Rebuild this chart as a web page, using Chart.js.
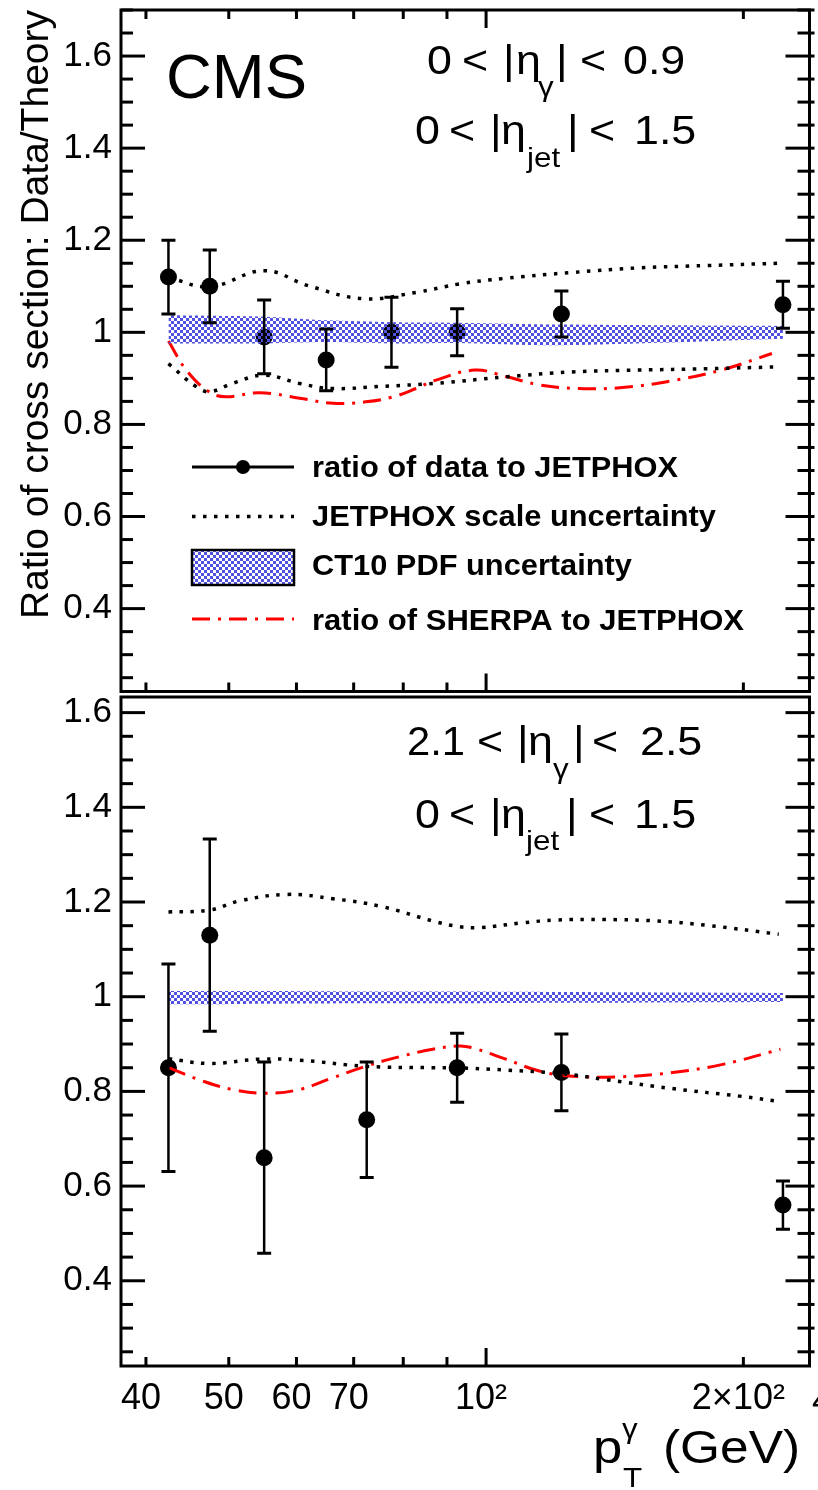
<!DOCTYPE html>
<html>
<head>
<meta charset="utf-8">
<script src="https://cdn.jsdelivr.net/npm/chart.js@4.4.0/dist/chart.umd.min.js"></script>
<style>
    html, body { margin: 0; padding: 0; background: #fff; }
    #wrap { position: relative; width: 818px; height: 1490px; overflow: hidden; background: #fff; }
    canvas { position: absolute; left: 0; }
    #topChart { top: 0; }
    #bottomChart { top: 680px; }
</style>
</head>
<body>
<div id="wrap">
    <canvas id="topChart" width="818" height="700"></canvas>
    <canvas id="bottomChart" width="818" height="810"></canvas>
</div>
<script>
const FONT = '"Liberation Sans", Arial, Helvetica, sans-serif';
const RED = '#ff0000';
const STRETCH = 1.12; // ROOT's Helvetica renders a bit wider than Liberation Sans

// x axis (photon pT, GeV)
const xMin = 37.4;
const xMax = 239;
const xTickValues = [40, 50, 60, 70, 100, 200];
const xTickLabels = ['40', '50', '60', '70', '10²', '2×10²'];
const xMinorTicks = [40, 50, 60, 70, 80, 90, 200];
const xMajorTicks = [100];
const yTickValues = [0.4, 0.6, 0.8, 1.0, 1.2, 1.4, 1.6];

// top panel: 0 < |eta_gamma| < 0.9
const ptTop = [42.5, 47.5, 55, 65, 77.5, 92.5, 122.5, 222.5];
const ratioTop = [1.12, 1.10, 0.99, 0.94, 1.00, 1.00, 1.04, 1.06];
const errTop = [0.08, 0.079, 0.08, 0.067, 0.076, 0.051, 0.05, 0.051];
const pdfHiTop = [1.037, 1.036, 1.034, 1.026, 1.022, 1.021, 1.017, 1.014];
const pdfLoTop = [0.976, 0.976, 0.976, 0.979, 0.976, 0.977, 0.972, 0.986];
const scaleUpPtTop = [42.5, 47.5, 55, 62, 72, 83, 93, 105, 126, 151, 181, 220];
const scaleUpTop = [1.119, 1.099, 1.134, 1.101, 1.073, 1.087, 1.105, 1.117, 1.130, 1.140, 1.145, 1.150];
const scaleDnPtTop = [42.5, 45.8, 47.5, 50.5, 55, 60.5, 66, 76, 87, 105, 126, 151, 181, 220];
const scaleDnTop = [0.932, 0.882, 0.871, 0.889, 0.907, 0.889, 0.878, 0.883, 0.889, 0.903, 0.914, 0.918, 0.921, 0.925];
const sherpaPtTop = [42.5, 44.6, 47.4, 49.6, 54.3, 60.5, 66.2, 72.3, 77.9, 82.8, 87, 97, 105.5, 115.4, 128.5, 144.3, 165.3, 189.2, 216];
const sherpaTop = [0.981, 0.918, 0.871, 0.860, 0.869, 0.857, 0.846, 0.849, 0.860, 0.878, 0.895, 0.918, 0.904, 0.886, 0.878, 0.880, 0.895, 0.919, 0.954];

// bottom panel: 2.1 < |eta_gamma| < 2.5
const ptBot = [42.5, 47.5, 55, 72.5, 92.5, 122.5, 222.5];
const ratioBot = [0.85, 1.13, 0.66, 0.74, 0.85, 0.84, 0.56];
const errBot = [0.219, 0.203, 0.202, 0.122, 0.073, 0.081, 0.051];
const pdfHiBot = [1.012, 1.012, 1.012, 1.011, 1.011, 1.010, 1.008];
const pdfLoBot = [0.984, 0.984, 0.985, 0.986, 0.986, 0.987, 0.989];
const scaleUpPtBot = [42.5, 47.5, 51.4, 58.4, 66.2, 75.7, 86.6, 93, 98.2, 110.3, 120.7, 138.1, 158, 180.9, 220];
const scaleUpBot = [1.179, 1.183, 1.202, 1.216, 1.207, 1.19, 1.16, 1.148, 1.146, 1.156, 1.162, 1.163, 1.16, 1.151, 1.132];
const scaleDnPtBot = [42.5, 47.5, 54.3, 60.5, 72.3, 86.6, 92.3, 105.5, 122, 138, 165, 198, 220];
const scaleDnBot = [0.869, 0.859, 0.868, 0.866, 0.853, 0.85, 0.85, 0.845, 0.838, 0.825, 0.806, 0.79, 0.779];
const sherpaPtBot = [42.5, 46.6, 50.5, 55.2, 60.5, 66.2, 72.3, 79.1, 86.6, 93, 96.4, 105.5, 115.4, 126.2, 144.3, 165.3, 189.2, 221];
const sherpaBot = [0.85, 0.822, 0.804, 0.796, 0.804, 0.829, 0.853, 0.873, 0.889, 0.896, 0.892, 0.868, 0.843, 0.832, 0.831, 0.84, 0.857, 0.889];

Chart.defaults.font.family = FONT;
Chart.defaults.color = '#000';

function xy(xs, ys) {
    return xs.map((x, i) => ({ x: x, y: ys[i] }));
}

function makeChecker() {
    const c = document.createElement('canvas');
    c.width = 6;
    c.height = 6;
    const g = c.getContext('2d');
    g.fillStyle = 'rgb(80, 80, 226)';
    g.fillRect(0, 0, 3, 3);
    g.fillRect(3, 3, 3, 3);
    return g.createPattern(c, 'repeat');
}
const checker = makeChecker();

// draw a list of [text, x, y, size, width?, bold?] in page coordinates
function drawTokens(ctx, tokens, dy) {
    ctx.save();
    ctx.fillStyle = '#000';
    ctx.textAlign = 'left';
    ctx.textBaseline = 'alphabetic';
    tokens.forEach(([s, x, y, size, w, bold]) => {
        ctx.font = (bold ? 'bold ' : '') + size + 'px ' + FONT;
        const sx = w ? w / ctx.measureText(s).width : STRETCH;
        ctx.save();
        ctx.translate(x, y - dy);
        ctx.scale(sx, 1);
        ctx.fillText(s, 0, 0);
        ctx.restore();
    });
    ctx.restore();
}

function hLine(ctx, x0, x1, y) {
    ctx.beginPath();
    ctx.moveTo(x0, y);
    ctx.lineTo(x1, y);
    ctx.stroke();
}

// frame with inward ROOT-style ticks
const framePlugin = {
    id: 'frame',
    afterDraw(chart, args, opts) {
        const { ctx, chartArea: a, scales: { x, y } } = chart;
        ctx.save();
        ctx.strokeStyle = '#000';
        ctx.lineWidth = 3;
        ctx.setLineDash([]);
        ctx.strokeRect(a.left, a.top, a.right - a.left, a.bottom - a.top);

        const k0 = Math.ceil(y.min * 20 - 1e-6);
        const k1 = Math.floor(y.max * 20 + 1e-6);
        for (let k = k0; k <= k1; k++) {
            const py = y.getPixelForValue(k / 20);
            const len = k % 4 === 0 ? 24 : 12;
            hLine(ctx, a.left, a.left + len, py);
            hLine(ctx, a.right - len, a.right + 5, py);
        }

        const xt = xMinorTicks.map(v => [v, 9]).concat(xMajorTicks.map(v => [v, 18]));
        xt.forEach(([v, len]) => {
            const px = x.getPixelForValue(v);
            ctx.beginPath();
            if (opts.top) {
                ctx.moveTo(px, a.top);
                ctx.lineTo(px, a.top + len);
            }
            if (opts.bottom) {
                ctx.moveTo(px, a.bottom);
                ctx.lineTo(px, a.bottom - len);
            }
            ctx.stroke();
        });
        ctx.restore();
    }
};

const errorBars = {
    id: 'errorBars',
    afterDatasetsDraw(chart) {
        const { ctx, scales: { x, y } } = chart;
        chart.data.datasets.forEach(ds => {
            if (!ds.errors) return;
            ctx.save();
            ctx.strokeStyle = '#000';
            ds.data.forEach((p, i) => {
                const px = x.getPixelForValue(p.x);
                const y1 = y.getPixelForValue(p.y + ds.errors[i]);
                const y2 = y.getPixelForValue(p.y - ds.errors[i]);
                ctx.lineWidth = 2.5;
                ctx.beginPath();
                ctx.moveTo(px, y1);
                ctx.lineTo(px, y2);
                ctx.stroke();
                ctx.lineWidth = 3;
                ctx.beginPath();
                ctx.moveTo(px - 7, y1);
                ctx.lineTo(px + 7, y1);
                ctx.moveTo(px - 7, y2);
                ctx.lineTo(px + 7, y2);
                ctx.stroke();
            });
            ctx.restore();
        });
    }
};

function panelDatasets(p) {
    const clear = 'rgba(0,0,0,0)';
    return [
        { data: xy(p.pt, p.pdfHi), fill: '+1', backgroundColor: checker, borderColor: clear, borderWidth: 1, pointRadius: 0, tension: 0.3 },
        { data: xy(p.pt, p.pdfLo), fill: false, borderColor: clear, borderWidth: 1, pointRadius: 0, tension: 0.3 },
        { data: xy(p.upPt, p.up), fill: false, borderColor: '#000', borderWidth: 3.5, borderDash: [3.5, 7.5], pointRadius: 0, tension: 0.4 },
        { data: xy(p.dnPt, p.dn), fill: false, borderColor: '#000', borderWidth: 3.5, borderDash: [3.5, 7.5], pointRadius: 0, tension: 0.4 },
        { data: xy(p.shPt, p.sh), fill: false, borderColor: RED, borderWidth: 3, borderDash: [18, 8, 3, 8], pointRadius: 0, tension: 0.4 },
        { data: xy(p.pt, p.ratio), showLine: false, pointRadius: 8.5, pointBackgroundColor: '#000', pointBorderWidth: 0, errors: p.err }
    ];
}

function yAxis(max, title) {
    return {
        min: 0.22,
        max: max,
        afterBuildTicks: s => { s.ticks = yTickValues.map(v => ({ value: v })); },
        afterFit: s => { s.width = 121; s.paddingTop = 0; s.paddingBottom = 0; },
        grid: { display: false, drawTicks: false },
        border: { display: false },
        ticks: { font: { size: 35 }, color: '#000', padding: 9, callback: v => String(Math.round(v * 10) / 10) },
        title: title ? { display: true, text: title, align: 'end', color: '#000', font: { size: 39 }, padding: { top: 14, bottom: 0 } } : { display: false }
    };
}

function drawTopText(chart) {
    const ctx = chart.ctx;
    drawTokens(ctx, [
        ['CMS', 166, 98, 63, 141],
        ['0', 427, 74, 40], ['<', 462, 74, 40], ['|', 503, 74, 40], ['η', 516, 74, 40],
        ['γ', 538, 96, 28], ['|', 556, 74, 40], ['<', 580, 74, 40], ['0.9', 623, 74, 40],
        ['0', 415, 144, 40], ['<', 449, 144, 40], ['|', 490, 144, 40], ['η', 501, 144, 40],
        ['jet', 527, 167, 28], ['|', 567, 144, 40], ['<', 589, 144, 40], ['1.5', 634, 144, 40]
    ], 0);

    // legend
    const x0 = 192, x1 = 294;
    ctx.save();
    ctx.strokeStyle = '#000';
    ctx.lineWidth = 3;
    hLine(ctx, x0, x1, 467);
    ctx.fillStyle = '#000';
    ctx.beginPath();
    ctx.arc(243, 467, 7, 0, Math.PI * 2);
    ctx.fill();
    ctx.lineWidth = 3.5;
    ctx.setLineDash([3.5, 7.5]);
    hLine(ctx, x0, x1, 516.5);
    ctx.setLineDash([]);
    ctx.fillStyle = checker;
    ctx.fillRect(x0, 550, x1 - x0, 35);
    ctx.lineWidth = 2.5;
    ctx.strokeRect(x0, 550, x1 - x0, 35);
    ctx.lineWidth = 3;
    ctx.strokeStyle = RED;
    ctx.setLineDash([18, 8, 3, 8]);
    hLine(ctx, x0, x1, 619);
    ctx.restore();

    drawTokens(ctx, [
        ['ratio of data to JETPHOX', 312, 477, 29, 366, true],
        ['JETPHOX scale uncertainty', 312, 526, 29, 404, true],
        ['CT10 PDF uncertainty', 312, 575, 29, 320, true],
        ['ratio of SHERPA to JETPHOX', 312, 630, 29, 432, true]
    ], 0);
}

function drawBottomText(chart) {
    drawTokens(chart.ctx, [
        ['2.1', 407, 755, 40, 58], ['<', 477, 755, 40], ['|', 517, 755, 40], ['η', 528, 755, 40],
        ['γ', 553, 778, 28], ['|', 573, 755, 40], ['<', 592, 755, 40], ['2.5', 640, 755, 40],
        ['0', 415, 828, 40], ['<', 449, 828, 40], ['|', 490, 828, 40], ['η', 501, 828, 40],
        ['jet', 526, 850, 28], ['|', 566, 828, 40], ['<', 589, 828, 40], ['1.5', 634, 828, 40],
        ['4', 812, 1412, 35, 20],
        ['p', 593, 1463, 47], ['γ', 622, 1438, 28], ['T', 623, 1487, 28],
        ['(GeV)', 663, 1463, 47, 137]
    ], 680);
}

new Chart(document.getElementById('topChart'), {
    type: 'line',
    data: {
        datasets: panelDatasets({
            pt: ptTop, ratio: ratioTop, err: errTop, pdfHi: pdfHiTop, pdfLo: pdfLoTop,
            upPt: scaleUpPtTop, up: scaleUpTop, dnPt: scaleDnPtTop, dn: scaleDnTop,
            shPt: sherpaPtTop, sh: sherpaTop
        })
    },
    options: {
        responsive: false,
        animation: false,
        events: [],
        layout: { padding: { top: 10, right: 8, bottom: 2, left: 0 } },
        plugins: { legend: { display: false }, tooltip: { enabled: false }, frame: { top: true, bottom: true } },
        scales: {
            x: { type: 'logarithmic', min: xMin, max: xMax, display: false },
            y: yAxis(1.7, 'Ratio of cross section: Data/Theory')
        }
    },
    plugins: [framePlugin, errorBars, { id: 'topText', afterDraw: drawTopText }]
});

new Chart(document.getElementById('bottomChart'), {
    type: 'line',
    data: {
        datasets: panelDatasets({
            pt: ptBot, ratio: ratioBot, err: errBot, pdfHi: pdfHiBot, pdfLo: pdfLoBot,
            upPt: scaleUpPtBot, up: scaleUpBot, dnPt: scaleDnPtBot, dn: scaleDnBot,
            shPt: sherpaPtBot, sh: sherpaBot
        })
    },
    options: {
        responsive: false,
        animation: false,
        events: [],
        layout: { padding: { top: 17, right: 8, bottom: 0, left: 0 } },
        plugins: { legend: { display: false }, tooltip: { enabled: false }, frame: { top: false, bottom: true } },
        scales: {
            x: {
                type: 'logarithmic',
                min: xMin,
                max: xMax,
                afterBuildTicks: s => { s.ticks = xTickValues.map(v => ({ value: v })); },
                afterFit: s => { s.height = 124; s.paddingLeft = 0; s.paddingRight = 0; },
                grid: { display: false, drawTicks: false },
                border: { display: false },
                ticks: {
                    font: { size: 36 }, color: '#000', padding: 11, maxRotation: 0, minRotation: 0,
                    autoSkip: false, labelOffset: -5,
                    callback: (v, i) => xTickLabels[i]
                }
            },
            y: yAxis(1.633, null)
        }
    },
    plugins: [framePlugin, errorBars, { id: 'bottomText', afterDraw: drawBottomText }]
});
</script>
</body>
</html>
